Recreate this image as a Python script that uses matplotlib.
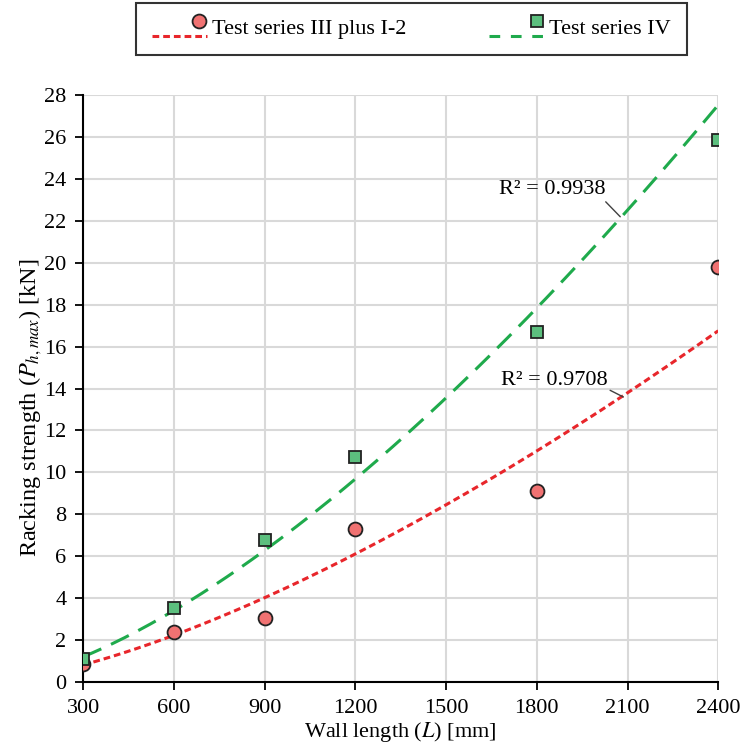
import numpy as np
import matplotlib
matplotlib.use("Agg")
import matplotlib.pyplot as plt
from matplotlib.lines import Line2D
from matplotlib.legend_handler import HandlerBase

# datos
longitud = [300, 600, 900, 1200, 1800, 2400]
serie_3 = [0.85, 2.4, 3.05, 7.3, 9.1, 19.8]     # Test series III plus I-2
serie_4 = [1.1, 3.53, 6.77, 10.73, 16.7, 25.85]  # Test series IV
r2_labels = ["R² = 0.9708", "R² = 0.9938"]
xticks = [300, 600, 900, 1200, 1500, 1800, 2100, 2400]
yticks = list(range(0, 29, 2))

plt.rcParams['font.family'] = ['Liberation Serif', 'DejaVu Serif']
plt.rcParams['mathtext.fontset'] = 'stix'
plt.rcParams['font.size'] = 16

rojo_l, rojo_m = '#e8262b', '#f07272'
verde_l, verde_m = '#1faa4c', '#5cbf7e'

def ajuste_potencia(x, y):
    # linea de tendencia tipo potencia (como Excel): regresion en log-log
    b, ln_a = np.polyfit(np.log(x), np.log(y), 1)
    xs = np.linspace(min(x), max(x), 200)
    return xs, np.exp(ln_a) * xs ** b


class HandlerExcel(HandlerBase):
    # linea abajo y marcador arriba a la derecha, como en la leyenda de Excel
    def __init__(self, dashes):
        super().__init__()
        self.dashes = dashes

    def create_artists(self, legend, orig, xd, yd, width, height, fontsize, trans):
        linea = Line2D([0, width], [-0.1 * height] * 2, color=orig.get_color(),
                       lw=orig.get_linewidth(), dashes=self.dashes)
        marca = Line2D([width * 0.86], [0.85 * height], marker=orig.get_marker(),
                       ms=orig.get_markersize(), mfc=orig.get_markerfacecolor(),
                       mec=orig.get_markeredgecolor(), mew=orig.get_markeredgewidth(), ls='none')
        for a in (linea, marca):
            a.set_transform(trans)
        return [linea, marca]


fig = plt.figure(figsize=(7.42, 7.56), dpi=100)
ax = fig.add_axes([0.112, 0.098, 0.856, 0.776])

xs, ys = ajuste_potencia(longitud, serie_3)
ax.plot(xs, ys, color=rojo_l, lw=2.2, dashes=(2.2, 1.3), zorder=3)
xs, ys = ajuste_potencia(longitud, serie_4)
ax.plot(xs, ys, color=verde_l, lw=2.2, dashes=(6.5, 3.5), zorder=3)

h1, = ax.plot(longitud, serie_3, 'o', ms=10, mfc=rojo_m, mec='#222222', mew=1.3,
              color=rojo_l, lw=2.2, zorder=4)
h2, = ax.plot(longitud, serie_4, 's', ms=9, mfc=verde_m, mec='#222222', mew=1.3,
              color=verde_l, lw=2.2, zorder=4)

# etiquetas R2 con linea guia
ax.annotate(r2_labels[1], xy=(2076, 22.2), xytext=(1850, 23.5), ha='center', va='center',
            arrowprops=dict(arrowstyle='-', color='#404040', lw=1, shrinkA=0, shrinkB=0,
                            relpos=(0.98, 0.0)))
ax.annotate(r2_labels[0], xy=(2086, 13.6), xytext=(1857, 14.4), ha='center', va='center',
            arrowprops=dict(arrowstyle='-', color='#404040', lw=1, shrinkA=0, shrinkB=0,
                            relpos=(0.98, 0.1)))

ax.set_xlim(300, 2400)
ax.set_ylim(0, 28)
ax.set_xticks(xticks)
ax.set_yticks(yticks)
ax.grid(True, color='#d9d9d9', lw=1.5, zorder=0)
ax.set_axisbelow(True)
for s in ['top', 'right']:
    ax.spines[s].set_visible(False)
for s in ['left', 'bottom']:
    ax.spines[s].set_linewidth(1.5)
ax.tick_params(direction='out', length=6, width=1.3, labelsize=16, pad=6)

ax.set_xlabel('Wall length ($L$) [mm]', fontsize=16, labelpad=2)
ax.set_ylabel('Racking strength ($P_{h,max}$) [kN]', fontsize=17.5)
ax.yaxis.set_label_coords(-0.062, 0.468)

leg = fig.legend([h1, h2], ['Test series III plus I-2', 'Test series IV'], ncol=2,
                 loc='upper left', bbox_to_anchor=(136 / 742, 1 - 3 / 756), borderaxespad=0,
                 fontsize=16, frameon=True, fancybox=False, edgecolor='black',
                 columnspacing=3.75, handlelength=2.5, handletextpad=0.2, borderpad=0.7,
                 handler_map={h1: HandlerExcel((2.2, 1.3)), h2: HandlerExcel((3.5, 3.5))})
leg.get_frame().set_linewidth(1.5)

fig.savefig('out.png', dpi=100)
